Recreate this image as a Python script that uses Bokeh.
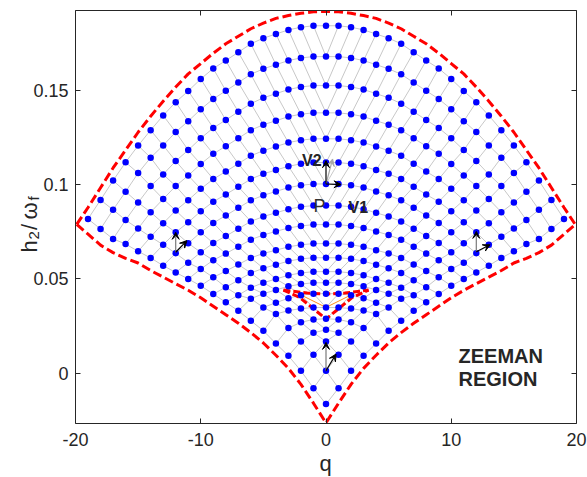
import numpy as np
from bokeh.plotting import figure
from bokeh.models import Range1d, FixedTicker, LinearAxis, Label, Arrow, VeeHead
from bokeh.embed import file_html
from bokeh.resources import INLINE

# ---------------- data ----------------
# Lattice of points: arc k holds points at q = -(19-k) ... (19-k); values listed for |q| = 0,1,2,...
arc_00 = [0.1846, 0.1846, 0.1838, 0.1824, 0.1802, 0.1780, 0.1750, 0.1705, 0.1661, 0.1619, 0.1563, 0.1499, 0.1440, 0.1369, 0.1291, 0.1209, 0.1120, 0.1023, 0.0920, 0.0819]
arc_01 = [0.1682, 0.1682, 0.1675, 0.1661, 0.1639, 0.1617, 0.1588, 0.1544, 0.1500, 0.1457, 0.1402, 0.1339, 0.1281, 0.1210, 0.1145, 0.1063, 0.0964, 0.0868, 0.0766]
arc_02 = [0.1528, 0.1528, 0.1521, 0.1507, 0.1485, 0.1463, 0.1432, 0.1389, 0.1345, 0.1303, 0.1248, 0.1185, 0.1127, 0.1056, 0.0994, 0.0906, 0.0813, 0.0713]
arc_03 = [0.1383, 0.1383, 0.1376, 0.1363, 0.1341, 0.1320, 0.1291, 0.1248, 0.1206, 0.1165, 0.1111, 0.1050, 0.0994, 0.0925, 0.0855, 0.0768, 0.0686]
arc_04 = [0.1245, 0.1245, 0.1238, 0.1225, 0.1204, 0.1182, 0.1155, 0.1113, 0.1071, 0.1031, 0.0979, 0.0919, 0.0864, 0.0796, 0.0724, 0.0647]
arc_05 = [0.1119, 0.1119, 0.1112, 0.1099, 0.1079, 0.1059, 0.1031, 0.0990, 0.0949, 0.0911, 0.0860, 0.0801, 0.0748, 0.0682, 0.0612]
arc_06 = [0.1005, 0.1005, 0.0998, 0.0986, 0.0965, 0.0945, 0.0918, 0.0878, 0.0837, 0.0798, 0.0748, 0.0690, 0.0637, 0.0571]
arc_07 = [0.0890, 0.0890, 0.0884, 0.0871, 0.0852, 0.0832, 0.0806, 0.0767, 0.0728, 0.0691, 0.0642, 0.0587, 0.0535]
arc_08 = [0.0789, 0.0789, 0.0782, 0.0771, 0.0753, 0.0734, 0.0709, 0.0672, 0.0635, 0.0600, 0.0553, 0.0500]
arc_09 = [0.0688, 0.0688, 0.0682, 0.0671, 0.0653, 0.0636, 0.0612, 0.0577, 0.0542, 0.0509, 0.0464]
arc_10 = [0.0613, 0.0613, 0.0607, 0.0595, 0.0576, 0.0557, 0.0532, 0.0494, 0.0456, 0.0420]
arc_11 = [0.0539, 0.0539, 0.0532, 0.0520, 0.0500, 0.0480, 0.0454, 0.0414, 0.0376]
arc_12 = [0.0480, 0.0480, 0.0473, 0.0461, 0.0442, 0.0422, 0.0395, 0.0331]
arc_13 = [0.0422, 0.0422, 0.0414, 0.0398, 0.0374, 0.0349, 0.0278]
arc_14 = [0.0349, 0.0348, 0.0343, 0.0332, 0.0314, 0.0225]
arc_15 = [0.0289, 0.0285, 0.0270, 0.0239, 0.0157]
arc_16 = [0.0230, 0.0214, 0.0168, 0.0092]
arc_17 = [0.0168, 0.0097, 0.0012]
arc_18 = [0.0012, -0.0080]
arc_19 = [-0.0165]

# red dashed outer boundary (left half, mirrored)
upper_bound_q = [-19.9, -19, -18, -17, -16, -15, -14, -13, -12, -11, -10, -9, -8, -7, -6, -5, -4, -3, -2, -1, 0]
upper_bound_y = [0.0790, 0.0880, 0.0985, 0.1090, 0.1185, 0.1280, 0.1365, 0.1445, 0.1520, 0.1590, 0.1645,
                 0.1700, 0.1750, 0.1790, 0.1830, 0.1860, 0.1885, 0.1900, 0.1912, 0.1920, 0.1922]
lower_bound_q = [-19.9, -19, -18, -17, -16, -15, -14, -13, -12, -11, -10, -9, -8, -7, -6, -5, -4, -3, -2, -1, 0]
lower_bound_y = [0.0790, 0.0738, 0.0680, 0.0640, 0.0610, 0.0585, 0.0545, 0.0510, 0.0475, 0.0440, 0.0400,
                 0.0355, 0.0310, 0.0265, 0.0215, 0.0160, 0.0095, 0.0025, -0.0060, -0.0160, -0.0265]

# small red dashed triangle and thin orange lines
tri_top_q = [-3.4, -1.5, 0, 1.5, 3.4]
tri_top_y = [0.0441, 0.0425, 0.0420, 0.0425, 0.0441]
tri_v_q = [-3.4, -2.1, 0, 2.1, 3.4]
tri_v_y = [0.0441, 0.0402, 0.0287, 0.0402, 0.0441]
orange_q = [-2.2, 0, 2.2]
orange_y = [0.0422, 0.0349, 0.0422]

# vector pairs at three lattice sites
vec_base_q = [-12.0, 12.0, 0.0]
vec_base_y = [0.0642, 0.0645, 0.0012]
vec_up_y = [0.0748, 0.0753, 0.0163]
vec_diag_q = [-11.1, 13.1, 0.8]
vec_diag_y = [0.0704, 0.0682, 0.0101]

# point P and its vectors V1, V2
P_q, P_y = 0.0, 0.1005
V1_q, V1_y = 1.2, 0.1002
V2_q, V2_y = 0.0, 0.1129
V2g_q, V2g_y = 0.53, 0.1138

x_ticks = [-20, -10, 0, 10, 20]
y_ticks = [0, 0.05, 0.1, 0.15]
y_tick_labels = ["0", "0.05", "0.1", "0.15"]

arcs = [arc_00, arc_01, arc_02, arc_03, arc_04, arc_05, arc_06, arc_07, arc_08, arc_09,
        arc_10, arc_11, arc_12, arc_13, arc_14, arc_15, arc_16, arc_17, arc_18, arc_19]

# ---------------- figure ----------------
FONT = "Liberation Sans"
TXT = "#262626"
W, H = 587, 477
BOX_L, BOX_R, BOX_T, BOX_B = 75, 576, 10, 423   # plot box in canvas pixels
X0, X1 = -20, 20
Y0, Y1 = -0.0268, 0.1927
sx = (X1 - X0) / (BOX_R - BOX_L)
sy = (Y1 - Y0) / (BOX_B - BOX_T)

p = figure(width=W, height=H,
           x_range=Range1d(X0 - BOX_L * sx, X1 + (W - BOX_R) * sx),
           y_range=Range1d(Y0 - (H - BOX_B) * sy, Y1 + BOX_T * sy),
           output_backend="svg", toolbar_location=None, min_border=0)
p.min_border_left = p.min_border_right = p.min_border_top = p.min_border_bottom = 0
p.background_fill_color = "white"
p.border_fill_color = "white"
p.outline_line_color = None
p.xgrid.visible = False
p.ygrid.visible = False

def px2data(px, py):
    return X0 + (px - BOX_L) * sx, Y1 - (py - BOX_T) * sy

def style_axis(ax, show_labels):
    ax.axis_line_color = TXT
    ax.axis_line_width = 1
    ax.major_tick_line_color = TXT
    ax.major_tick_in = 5
    ax.major_tick_out = 0
    ax.minor_tick_line_color = None
    ax.major_label_text_font = FONT
    ax.major_label_text_font_size = "18px"
    ax.major_label_text_color = TXT if show_labels else None

xa = p.xaxis[0]
ya = p.yaxis[0]
style_axis(xa, True)
style_axis(ya, True)
xa.fixed_location = Y0
xa.bounds = (X0, X1)
xa.ticker = FixedTicker(ticks=x_ticks)
xa.major_label_overrides = {t: str(t) for t in x_ticks}
xa.major_label_standoff = 9
ya.fixed_location = X0
ya.bounds = (Y0, Y1)
ya.ticker = FixedTicker(ticks=y_ticks)
ya.major_label_overrides = dict(zip(y_ticks, y_tick_labels))
ya.major_label_standoff = 7

top_ax = LinearAxis(ticker=FixedTicker(ticks=x_ticks), fixed_location=Y1, bounds=(X0, X1))
right_ax = LinearAxis(ticker=FixedTicker(ticks=y_ticks), fixed_location=X1, bounds=(Y0, Y1))
style_axis(top_ax, False)
style_axis(right_ax, False)
p.add_layout(top_ax, "above")
p.add_layout(right_ax, "right")

# ---------------- mesh ----------------
pts_q, pts_y = [], []
line_xs, line_ys = [], []
for k, half in enumerate(arcs):
    n = len(half) - 1
    qs = list(range(-n, n + 1))
    ys = half[::-1] + half[1:]
    pts_q += qs
    pts_y += ys
    if n > 0:
        line_xs.append(qs)
        line_ys.append(ys)
for m in range(len(arcs)):
    xs, ys = [], []
    for k in range(0, m + 1):
        xs.append(-(m - k)); ys.append(arcs[k][m - k])
    for k in range(m - 1, -1, -1):
        xs.append(m - k); ys.append(arcs[k][m - k])
    if len(xs) > 1:
        line_xs.append(xs)
        line_ys.append(ys)

p.multi_line(line_xs, line_ys, line_color="#c8c8c8", line_width=1)

# red boundaries
up_q = upper_bound_q + [-v for v in upper_bound_q[-2::-1]]
up_y = upper_bound_y + upper_bound_y[-2::-1]
lo_q = lower_bound_q + [-v for v in lower_bound_q[-2::-1]]
lo_y = lower_bound_y + lower_bound_y[-2::-1]
p.line(up_q, up_y, line_color="#ff0000", line_width=3, line_dash="9 4")
p.line(lo_q, lo_y, line_color="#ff0000", line_width=3, line_dash="9 4")
p.line(orange_q, orange_y, line_color="#ff8c1a", line_width=1)
p.line(tri_top_q, tri_top_y, line_color="#ff0000", line_width=3, line_dash="7 3")
p.line(tri_v_q, tri_v_y, line_color="#ff0000", line_width=3, line_dash="7 3")

p.scatter(pts_q, pts_y, size=6.5, fill_color="#0000ff", line_color=None)

# ---------------- arrows ----------------
def arrow(x0, y0, x1, y1, color, head_color="black", width=1.2):
    p.add_layout(Arrow(end=VeeHead(size=7, fill_color=head_color, line_color=head_color, line_width=1),
                       x_start=x0, y_start=y0, x_end=x1, y_end=y1,
                       line_color=color, line_width=width))

for bq, by, uy, dq, dy in zip(vec_base_q, vec_base_y, vec_up_y, vec_diag_q, vec_diag_y):
    arrow(bq, by, bq, uy, "#7a7a7a")
    arrow(bq, by, dq, dy, "black")

arrow(P_q, P_y, V2g_q, V2g_y, "#a8a8a8", head_color="#a8a8a8")
arrow(P_q, P_y, V2_q, V2_y, "black")
arrow(P_q, P_y, V1_q, V1_y, "black")

# ---------------- texts ----------------
def label(text, px, py, size, bold=False, align="left", color=TXT, angle=0.0):
    x, y = px2data(px, py)
    p.add_layout(Label(x=x, y=y, text=text, text_font=FONT, text_font_size=f"{size}px",
                       text_font_style="bold" if bold else "normal", text_color=color,
                       text_align=align, text_baseline="alphabetic", angle=angle))

label("V2", 301.5, 160, 16, bold=True)
label("V1", 348, 206.5, 16, bold=True)
label("P", 313, 205, 18, color="#333333")
label("ZEEMAN", 458, 355, 20, bold=True)
label("REGION", 458, 378, 20, bold=True)

# x-axis label
label("q", 325, 463, 22, align="center")
# y-axis label h_2/omega_f, rotated to read upwards
a = np.pi / 2
label("h", 29, 252, 22, angle=a)
label("2", 33, 239, 15, angle=a)
label("/", 29, 229.5, 22, angle=a)
label("\u03c9", 29, 219, 22, angle=a)
label("f", 33, 200, 15, angle=a)

open("out.html", "w").write(file_html(p, INLINE))
